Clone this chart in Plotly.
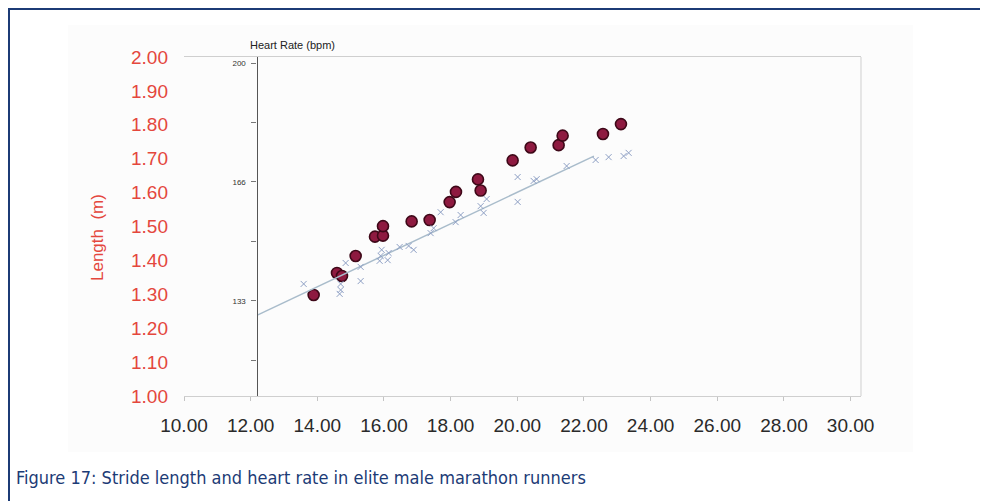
import plotly.graph_objects as go

# ---- data ----
speed_len = [13.89, 14.59, 14.74, 15.15, 15.73, 15.97, 15.97, 16.83, 17.37, 17.97,
             18.16, 18.82, 18.90, 19.86, 20.40, 21.24, 21.36, 22.57, 23.11]
stride_len = [1.298, 1.363, 1.354, 1.413, 1.470, 1.473, 1.501, 1.515, 1.519, 1.572,
              1.602, 1.639, 1.606, 1.695, 1.733, 1.740, 1.768, 1.773, 1.802]

speed_hr = [13.59, 14.70, 14.70, 14.67, 15.30, 15.30, 14.85, 15.93, 15.90, 16.14,
            16.11, 15.87, 16.47, 16.74, 16.89, 17.40, 17.49, 17.70, 18.15, 18.30,
            18.90, 18.99, 19.08, 20.01, 20.01, 20.49, 20.58, 21.48, 22.35, 22.74,
            23.19, 23.34]
heart_rate = [137.8, 137.8, 136.1, 135.0, 142.6, 138.6, 143.7, 147.4, 145.7, 146.5,
              144.5, 144.3, 148.2, 148.5, 147.4, 152.1, 153.5, 158.0, 155.2, 157.2,
              159.7, 157.8, 161.7, 167.9, 160.9, 166.8, 167.3, 171.0, 172.7, 173.5,
              173.8, 174.7]

fit_speed = [12.2, 22.3]
fit_hr = [129.0, 173.8]

x_ticks = [10, 12, 14, 16, 18, 20, 22, 24, 26, 28, 30]
y_ticks = [1.0, 1.1, 1.2, 1.3, 1.4, 1.5, 1.6, 1.7, 1.8, 1.9, 2.0]
hr_ticks = [116.25, 133, 149.75, 166.5, 183.25, 200]
hr_labels = ["", "133", "", "166", "", "200"]

RED = "#e4473d"
NAVY = "#1c3b76"

# page is drawn with an 8px body margin; work in page pixels and convert
OFF = 8
W, H = 988 - OFF, 501 - OFF
L, R, T, B = 184 - OFF, 861 - OFF, 57 - OFF, 396 - OFF
pw, ph = R - L, B - T


def px(xp):
    return (xp - OFF - L) / pw


def py(yp):
    return (B - (yp - OFF)) / ph


fig = go.Figure()

fig.add_trace(go.Scatter(
    x=fit_speed, y=fit_hr, yaxis="y2", mode="lines",
    line=dict(color="#a9bccb", width=1.5), showlegend=False, hoverinfo="skip"))
fig.add_trace(go.Scatter(
    x=speed_hr, y=heart_rate, yaxis="y2", mode="markers",
    marker=dict(symbol="x-thin", size=6, line=dict(color="#8d9fc4", width=1)),
    showlegend=False))
fig.add_trace(go.Scatter(
    x=speed_len, y=stride_len, mode="markers",
    marker=dict(symbol="circle", size=11, color="#8e1a40",
                line=dict(color="#3e0818", width=1.6)),
    showlegend=False))

fig.update_layout(
    width=W, height=H,
    margin=dict(l=L, r=W - R, t=T, b=H - B),
    paper_bgcolor="white", plot_bgcolor="rgba(0,0,0,0)",
    font=dict(family="Arial, Liberation Sans, sans-serif"),
    xaxis=dict(range=[10, 10 + pw / 33.33], tickvals=x_ticks,
               ticktext=[f"{v:.2f}" for v in x_ticks],
               showgrid=False, zeroline=False, showline=True, mirror=True,
               linecolor="#cfcfcf", linewidth=1,
               ticks="outside", ticklen=4, tickcolor="#c4c4c4",
               ticklabelstandoff=8,
               tickfont=dict(size=19, color="#2a2a2a")),
    yaxis=dict(range=[1.0, 2.0], tickvals=y_ticks,
               ticktext=[f"{v:.2f}" for v in y_ticks],
               showgrid=False, zeroline=False, showline=False, ticks="",
               ticklabelstandoff=15,
               tickfont=dict(size=19, color=RED)),
    yaxis2=dict(overlaying="y", anchor="free", position=px(256.5), side="left",
                range=[200 - (396 - 63) / 3.552, 200 + (63 - 57) / 3.552],
                tickvals=hr_ticks, ticktext=hr_labels,
                showgrid=False, zeroline=False, showline=True,
                linecolor="#555555", linewidth=1.2,
                ticks="outside", ticklen=5, tickcolor="#777777",
                ticklabelstandoff=4,
                tickfont=dict(size=8, color="#333333")),
    shapes=[
        dict(type="rect", xref="paper", yref="paper", layer="below",
             x0=px(68), x1=px(913), y0=py(452), y1=py(25),
             fillcolor="#fcfcfc", line=dict(width=0)),
        dict(type="line", xref="paper", yref="paper", x0=1, x1=1, y0=0, y1=1,
             line=dict(color="#cfcfcf", width=1)),
        dict(type="rect", xref="paper", yref="paper",
             x0=(1 - L) / pw, x1=px(982), y0=py(520), y1=(B - 1) / ph,
             line=dict(color=NAVY, width=2), fillcolor="rgba(0,0,0,0)"),
    ],
    annotations=[
        dict(text="Heart Rate (bpm)", xref="paper", yref="paper",
             x=px(248), y=py(45), xanchor="left", yanchor="middle",
             showarrow=False, font=dict(size=11, color="#222222")),
        dict(text="Length  (m)", xref="paper", yref="paper",
             x=px(97), y=py(238), xanchor="center", yanchor="middle",
             textangle=-90, showarrow=False, font=dict(size=17, color=RED)),
        dict(text="Figure 17: Stride length and heart rate in elite male marathon runners",
             xref="paper", yref="paper", x=px(14), y=py(477),
             xanchor="left", yanchor="middle", showarrow=False,
             font=dict(size=18, color=NAVY,
                       family="Liberation Sans Narrow, DejaVu Sans Condensed, Arial Narrow, sans-serif")),
    ],
)

fig.write_html("out.html")
